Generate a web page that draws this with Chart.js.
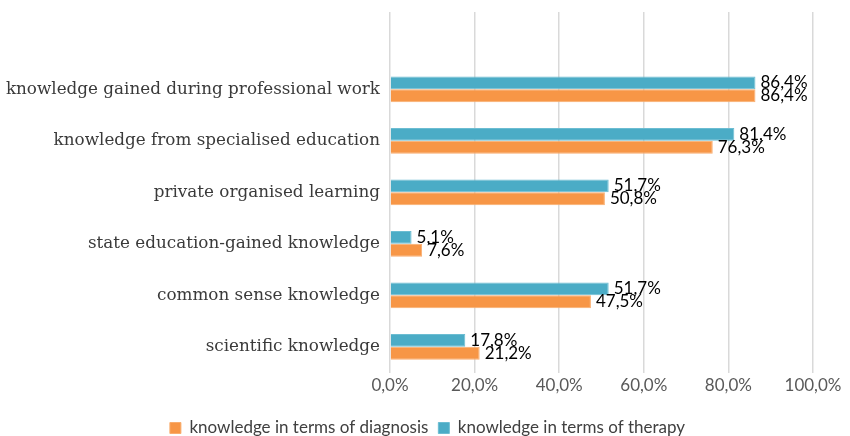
<!DOCTYPE html>
<html>
<head>
<meta charset="utf-8">
<script src="https://cdn.jsdelivr.net/npm/chart.js@4.4.0/dist/chart.umd.min.js"></script>
<style>
  html, body { margin: 0; padding: 0; background: #fff; }
  #wrap { width: 850px; height: 436px; }
</style>
</head>
<body>
<div id="wrap"><canvas id="chart" width="850" height="436"></canvas></div>
<script>
// categories top to bottom (first one is the empty slot above the bars)
const categories = [
    '',
    'knowledge gained during professional work',
    'knowledge from specialised education',
    'private organised learning',
    'state education-gained knowledge',
    'common sense knowledge',
    'scientific knowledge'
];
const therapy = [null, 86.4, 81.4, 51.7, 5.1, 51.7, 17.8];
const diagnosis = [null, 86.4, 76.3, 50.8, 7.6, 47.5, 21.2];
const xTicks = [0, 20, 40, 60, 80, 100];

function pct(v) {
    return v.toFixed(1).replace('.', ',') + '%';
}

// Draw value labels at the end of each bar
const barLabels = {
    id: 'barLabels',
    afterDatasetsDraw(chart) {
        const ctx = chart.ctx;
        ctx.save();
        ctx.font = '17px Lato';
        ctx.fillStyle = '#000';
        ctx.textBaseline = 'middle';
        ctx.textAlign = 'left';
        chart.data.datasets.forEach((ds, i) => {
            const meta = chart.getDatasetMeta(i);
            meta.data.forEach((bar, j) => {
                const v = ds.data[j];
                if (v === null) return;
                ctx.fillText(pct(v), bar.x + 5, bar.y);
            });
        });
        ctx.restore();
    }
};

// Put the legend near the bottom edge, centred like the original
const legendShift = {
    id: 'legendShift',
    afterLayout(chart) {
        const lg = chart.legend;
        const h = lg.bottom - lg.top;
        lg.top = 428 - h / 2;
        lg.bottom = lg.top + h;
        lg.left += 21;
        lg.right += 21;
    }
};

new Chart(document.getElementById('chart'), {
    type: 'bar',
    data: {
        labels: categories,
        datasets: [
            {
                label: 'knowledge in terms of therapy',
                data: therapy,
                backgroundColor: '#4bacc6',
                borderColor: '#6cbdd2',
                borderWidth: 1,
                categoryPercentage: 0.5,
                barPercentage: 1
            },
            {
                label: 'knowledge in terms of diagnosis',
                data: diagnosis,
                backgroundColor: '#f79646',
                borderColor: '#f9ad6e',
                borderWidth: 1,
                categoryPercentage: 0.5,
                barPercentage: 1
            }
        ]
    },
    options: {
        indexAxis: 'y',
        responsive: false,
        animation: false,
        layout: { padding: { top: 0, right: 37, left: 0, bottom: 0 } },
        scales: {
            x: {
                min: 0,
                max: 100,
                afterBuildTicks: scale => { scale.ticks = xTicks.map(v => ({ value: v })); },
                grid: { color: '#d9d9d9', lineWidth: 1.5, drawTicks: false },
                border: { display: false },
                ticks: {
                    color: '#595959',
                    font: { family: 'Lato', size: 17 },
                    padding: 3,
                    callback: v => pct(v)
                }
            },
            y: {
                grid: { display: false },
                border: { display: false },
                afterFit: scale => { scale.width = 390; },
                ticks: {
                    color: '#3a3a3a',
                    font: { family: 'DejaVu Serif', size: 16.8 },
                    padding: 2
                }
            }
        },
        plugins: {
            legend: {
                position: 'bottom',
                reverse: true,
                labels: {
                    color: '#404040',
                    font: { family: 'Lato', size: 17 },
                    boxWidth: 11,
                    boxHeight: 11,
                    padding: 10
                }
            },
            tooltip: { enabled: false }
        }
    },
    plugins: [barLabels, legendShift]
});
</script>
</body>
</html>
